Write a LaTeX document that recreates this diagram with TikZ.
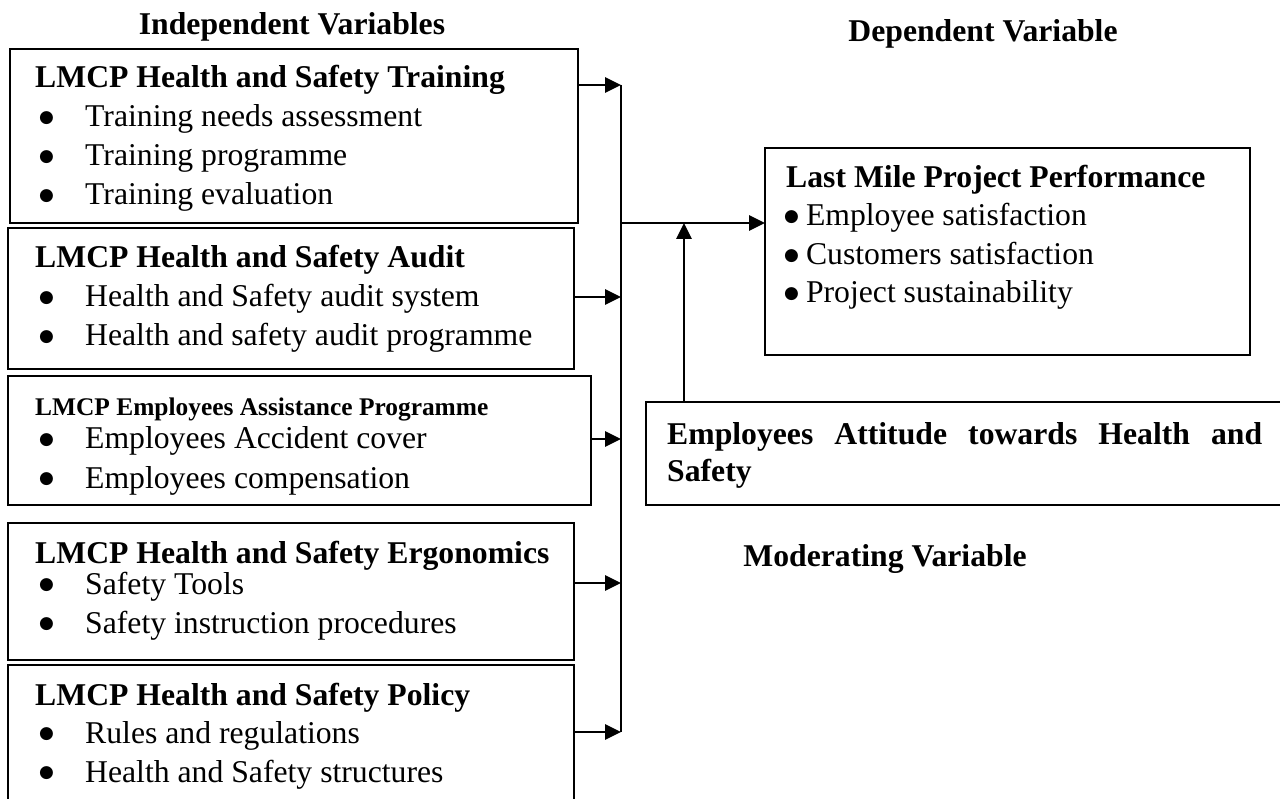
\documentclass[tikz,border=0pt]{standalone}
\usepackage{fontspec}
\setmainfont{Liberation Serif}
\newfontfamily\dejavu{DejaVu Sans}
\usetikzlibrary{arrows.meta}
\newcommand\bigbul{\raisebox{4.5pt}{\dejavu\fontsize{17}{17}\selectfont ●}}
\begin{document}
\begin{tikzpicture}[x=1pt,y=-1pt,
 box/.style={draw,line width=2.2pt,inner sep=0pt,outer sep=0pt,anchor=north west},
 txt/.style={anchor=base west,inner sep=0pt,font=\fontsize{31.7}{38}\selectfont},
 hd/.style={anchor=base west,inner sep=0pt,font=\bfseries\fontsize{31.7}{38}\selectfont},
 hds/.style={anchor=base west,inner sep=0pt,font=\bfseries\fontsize{25.4}{30}\selectfont},
 ttl/.style={anchor=base,inner sep=0pt,font=\bfseries\fontsize{31.7}{38}\selectfont},
 arr/.style={line width=2.8pt,-{Triangle[length=16pt,width=15pt]}},
 ln/.style={line width=2.8pt}]
\clip (0,0) rectangle (1280,799);
\fill[white] (0,0) rectangle (1280,799);

% titles
\node[ttl] (tIV) at (292,35) {Independent Variables};
\node[ttl] (tDV) at (983,42) {Dependent Variable};
\node[ttl] (tMV) at (885,566) {Moderating Variable};

% boxes
\node[box,minimum width=568pt,minimum height=174pt] (b1) at (10,49) {};
\node[box,minimum width=566pt,minimum height=141pt] (b2) at (8,228) {};
\node[box,minimum width=583pt,minimum height=129pt] (b3) at (8,376) {};
\node[box,minimum width=566pt,minimum height=137pt] (b4) at (8,523) {};
\node[box,minimum width=566pt,minimum height=150pt] (b5) at (8,665) {};
\node[box,minimum width=485pt,minimum height=207pt] (lmp) at (765,148) {};
\node[box,minimum width=660pt,minimum height=103pt] (mod) at (646,402) {};

% box 1
\node[hd] (h1) at (35,88) {LMCP Health and Safety Training};
\node[txt] (p11) at (39,127) {\bigbul};
\node[txt] (t11) at (85,127) {Training needs assessment};
\node[txt] (p12) at (39,166) {\bigbul};
\node[txt] (t12) at (85,166) {Training programme};
\node[txt] (p13) at (39,205) {\bigbul};
\node[txt] (t13) at (85,205) {Training evaluation};

% box 2
\node[hd] (h2) at (35,268) {LMCP Health and Safety Audit};
\node[txt] (p21) at (39,307) {\bigbul};
\node[txt] (t21) at (85,307) {Health and Safety audit system};
\node[txt] (p22) at (39,346) {\bigbul};
\node[txt] (t22) at (85,346) {Health and safety audit programme};

% box 3
\node[hds] (h3) at (35,416) {LMCP Employees Assistance Programme};
\node[txt] (p31) at (39,449) {\bigbul};
\node[txt] (t31) at (85,449) {Employees Accident cover};
\node[txt] (p32) at (39,488) {\bigbul};
\node[txt] (t32) at (85,488) {Employees compensation};

% box 4
\node[hd] (h4) at (35,563) {LMCP Health and Safety Ergonomics};
\node[txt] (p41) at (39,594) {\bigbul};
\node[txt] (t41) at (85,594) {Safety Tools};
\node[txt] (p42) at (39,633) {\bigbul};
\node[txt] (t42) at (85,633) {Safety instruction procedures};

% box 5
\node[hd] (h5) at (35,705) {LMCP Health and Safety Policy};
\node[txt] (p51) at (39,743) {\bigbul};
\node[txt] (t51) at (85,743) {Rules and regulations};
\node[txt] (p52) at (39,782) {\bigbul};
\node[txt] (t52) at (85,782) {Health and Safety structures};

% dependent box
\node[hd] (hL) at (786,188) {Last Mile Project Performance};
\node[txt] (tL1) at (784,226) {\bigbul\hspace{7pt}Employee satisfaction};
\node[txt] (tL2) at (784,265) {\bigbul\hspace{7pt}Customers satisfaction};
\node[txt] (tL3) at (784,303) {\bigbul\hspace{7pt}Project sustainability};

% moderating box
\node[hd] (hM1) at (667,444) {\makebox[595pt][s]{Employees Attitude towards Health and}};
\node[hd] (hM2) at (667,481) {Safety};

% connectors
\coordinate (j1) at (621,85);
\coordinate (j2) at (621,297);
\coordinate (j3) at (621,439);
\coordinate (j4) at (621,583);
\coordinate (j5) at (621,732);
\coordinate (jm) at (621,223);
\coordinate (um) at (684,223);
\draw[ln] (j1) -- (j5);
\draw[arr] (b1.east |- j1) -- (j1);
\draw[arr] (b2.east |- j2) -- (j2);
\draw[arr] (b3.east |- j3) -- (j3);
\draw[arr] (b4.east |- j4) -- (j4);
\draw[arr] (b5.east |- j5) -- (j5);
\draw[arr] (jm) -- (lmp.west |- jm);
\draw[arr] (um |- mod.north) -- (um);
\end{tikzpicture}
\end{document}
